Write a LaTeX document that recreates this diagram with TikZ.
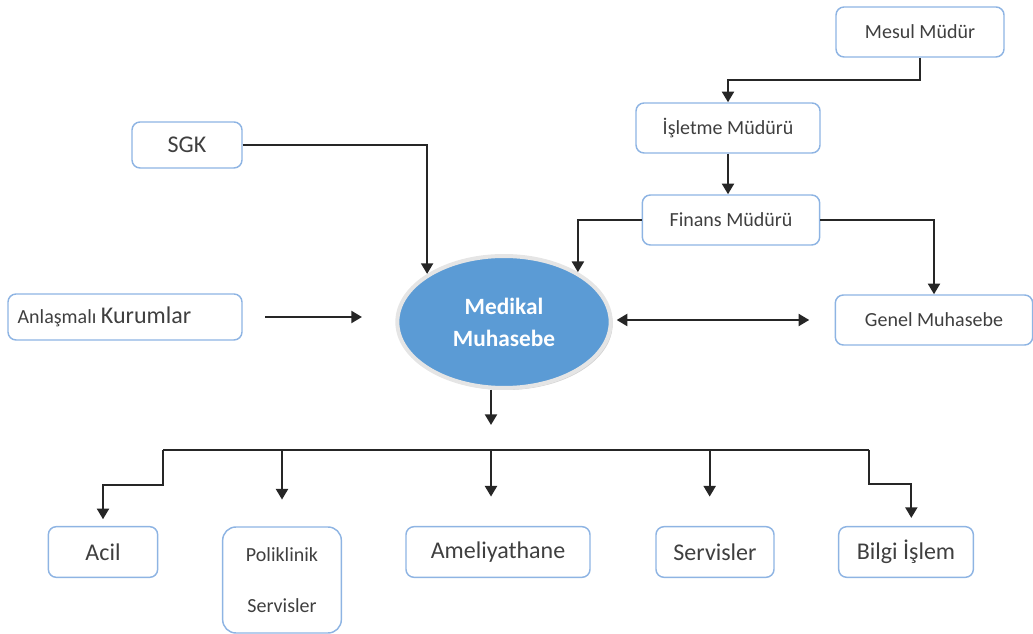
\documentclass[tikz,border=0pt]{standalone}
\usepackage{fontspec}
\setmainfont{Carlito}
\usetikzlibrary{arrows.meta,shadows,shapes.geometric}
\definecolor{kenar}{HTML}{8EB4E3}
\definecolor{mavi}{HTML}{5B9BD5}
\definecolor{yazi}{HTML}{3F3F3F}
\begin{document}
\begin{tikzpicture}
[x=0.75pt,y=-0.75pt,
ar/.style={-{Triangle[width=9pt,length=8pt]},line width=1.6pt,draw=black!85},
hat/.style={line width=1.6pt,draw=black!85},
no/.style={draw=kenar,line width=1.1pt,rounded corners=6pt,text=yazi,minimum height=37.5pt,inner sep=2pt},
kucuk/.style={font=\fontsize{15pt}{18pt}\selectfont},
buyuk/.style={font=\fontsize{18pt}{21pt}\selectfont}]
\useasboundingbox (0,0) rectangle (1033,634);
\node [no,kucuk,minimum width=126pt] at (920,32) (mesul) {Mesul Müdür};
\node [no,kucuk,minimum width=138pt] at (728,128) (islet) {İşletme Müdürü};
\node [no,kucuk,minimum width=133pt] at (731,220) (finans) {Finans Müdürü};
\node [no,buyuk,minimum width=82.5pt,minimum height=34.5pt] at (187,145) (sgk) {SGK};
\node [no,minimum width=175.5pt,minimum height=34.5pt,text width=161pt,inner xsep=7pt,align=left] at (125,317) (anl)
  {{\fontsize{15pt}{18pt}\selectfont Anlaşmalı} {\fontsize{18pt}{21pt}\selectfont Kurumlar}};
\node [no,kucuk,minimum width=148pt] at (934,320) (genel) {Genel Muhasebe};
\node [ellipse,fill=mavi,draw=white!90!black,line width=3pt,minimum width=160pt,minimum height=99pt,
  drop shadow={shadow xshift=1.5pt,shadow yshift=-1.5pt,opacity=.35},text=white,align=center,
  font=\bfseries\fontsize{17.5pt}{24pt}\selectfont] at (504,322) (medik) {Medikal\\Muhasebe};

\node [no,buyuk,minimum width=82pt,minimum height=38pt] at (103,552) (acil) {Acil};
\node [no,kucuk,minimum width=89pt,minimum height=79.5pt,rounded corners=10pt,align=center] at (282,580) (poli) {Poliklinik\\[20pt]Servisler};
\node [no,buyuk,minimum width=138pt,minimum height=38pt] at (498,552) (amel) {Ameliyathane};
\node [no,buyuk,minimum width=88.5pt,minimum height=38pt] at (715,552) (serv) {Servisler};
\node [no,buyuk,minimum width=101pt,minimum height=38pt] at (906,552) (bilgi) {Bilgi İşlem};

\coordinate (hub) at (491,425);
\coordinate (busL) at (163,450);
\coordinate (busR) at (869,450);

\draw [ar] (mesul.south) -- ++(0,22) -| (islet.north);
\draw [ar] (islet.south) -- (islet.south |- finans.north);
\draw [ar] (finans.west) -| (medik.34);
\draw [ar] (finans.east) -| (genel.north);
\draw [ar] (sgk.east) -| (medik.148);
\draw [ar,shorten <=17pt,shorten >=25pt] (anl.east) -- (anl.east -| medik.west);
\draw [{Triangle[width=9pt,length=8pt]}-{Triangle[width=9pt,length=8pt]},line width=1.6pt,draw=black!85,
  shorten <=3pt,shorten >=19pt] (medik.east |- genel.west) -- (genel.west);
\draw [ar] (medik.south -| hub) -- (hub);

\draw [hat] (busL) -- (busR);
\draw [ar,shorten >=5pt] (busL) -- ++(0,35) -| (acil.north);
\draw [ar,shorten >=20pt] (busL -| poli.north) -- (poli.north);
\draw [ar,shorten >=22pt] (busL -| hub) -- (hub |- amel.north);
\draw [ar,shorten >=22pt] ([xshift=-4pt]busL -| serv.north) -- ([xshift=-4pt]serv.north);
\draw [ar,shorten >=6pt] (busR) -- ++(0,34) -| ([xshift=4pt]bilgi.north);
\end{tikzpicture}
\end{document}
